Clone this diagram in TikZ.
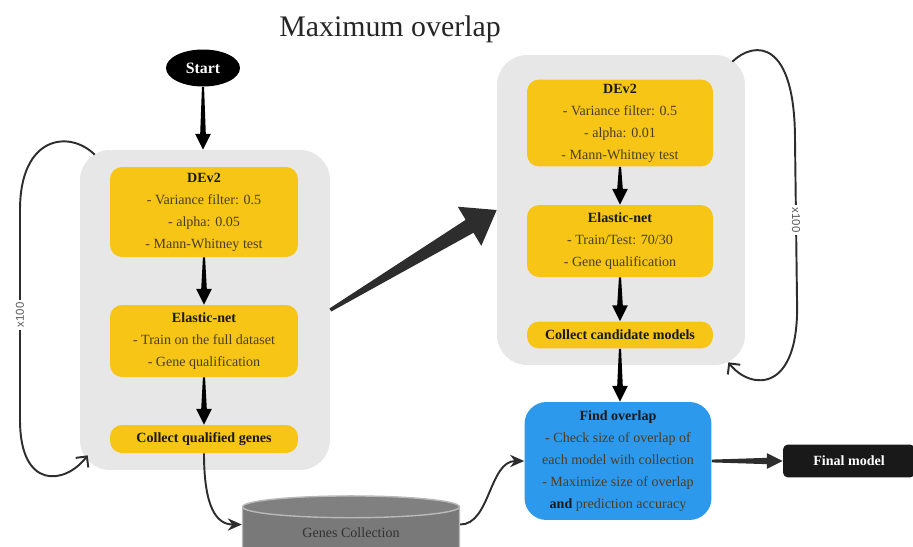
\documentclass[tikz,border=0pt]{standalone}
\usepackage{fontspec}
\setmainfont{Liberation Serif}
\setsansfont{Liberation Sans}
\usetikzlibrary{shapes,arrows.meta,calc}

\definecolor{boxyellow}{RGB}{246,197,22}
\definecolor{panelgray}{RGB}{231,231,231}
\definecolor{findblue}{RGB}{45,153,237}
\definecolor{arrowdark}{RGB}{45,45,45}
\definecolor{bodytext}{RGB}{75,62,35}

\tikzset{
  panel/.style={rectangle, rounded corners=0.6cm, fill=panelgray},
  stepbox/.style={rectangle, rounded corners=0.24cm, fill=boxyellow, align=center,
    text=bodytext, font=\fontsize{8}{12.5}\selectfont, inner sep=0pt, minimum width=3.76cm},
  link/.style={draw=arrowdark, line width=1.1pt, -{Stealth[width=7pt,length=8pt]}},
  repeat/.style={draw=arrowdark, line width=1.1pt, -{Straight Barb[width=9pt,length=4.5pt]}},
  count/.style={fill=white, text=black!65, font=\sffamily\fontsize{6.5}{7}\selectfont, inner sep=1.5pt}
}

% tapered arrow: [colour]{from}{to}{start half width}{end half width}{head half width}{head length}
\newcommand{\taper}[7][black]{%
  \coordinate (tp-h) at ($(#3)!#7!(#2)$);
  \fill[#1, line join=round] ($(#2)!#4!90:(#3)$) -- ($(tp-h)!#5!90:(#3)$) -- ($(tp-h)!#6!90:(#3)$) -- (#3)
    -- ($(tp-h)!#6!-90:(#3)$) -- ($(tp-h)!#5!-90:(#3)$) -- ($(#2)!#4!-90:(#3)$) -- cycle;}

\begin{document}
\begin{tikzpicture}[x=0.02cm, y=-0.02cm]
    \useasboundingbox (0,0) rectangle (913,547);

    \node (title) [text=black!85, font=\fontsize{17}{20}\selectfont] at (390,29) {Maximum overlap};
    \node (start) [ellipse, fill=black, text=white, font=\bfseries\fontsize{9}{10}\selectfont,
        minimum width=1.48cm, minimum height=0.74cm, inner sep=0pt] at (203,68) {Start};

    % left panel
    \node (lbox) [panel, minimum width=5cm, minimum height=6.4cm] at (205,310) {};
    \node (deva) [stepbox, minimum height=1.8cm] at (204,212)
        {\textbf{\color{black!90}DEv2}\\- Variance filter: 0.5\\- alpha: 0.05\\- Mann-Whitney test};
    \node (neta) [stepbox, minimum height=1.44cm] at (204,341)
        {\textbf{\color{black!90}Elastic-net}\\- Train on the full dataset\\- Gene qualification};
    \node (colla) [stepbox, minimum height=0.56cm] at (204,439)
        {\textbf{\color{black!90}Collect qualified genes}};

    % right panel
    \node (rbox) [panel, minimum width=4.96cm, minimum height=6.2cm] at (621,210) {};
    \node (devb) [stepbox, minimum width=3.72cm, minimum height=1.74cm] at (620,123)
        {\textbf{\color{black!90}DEv2}\\- Variance filter: 0.5\\- alpha: 0.01\\- Mann-Whitney test};
    \node (netb) [stepbox, minimum width=3.72cm, minimum height=1.44cm] at (620,241)
        {\textbf{\color{black!90}Elastic-net}\\- Train/Test: 70/30\\- Gene qualification};
    \node (collb) [stepbox, minimum width=3.72cm, minimum height=0.54cm] at (620,335)
        {\textbf{\color{black!90}Collect candidate models}};

    \node (find) [rectangle, rounded corners=0.44cm, fill=findblue, align=center, text=bodytext,
        font=\fontsize{8}{12.5}\selectfont, minimum width=3.74cm, minimum height=2.36cm] at (618,461)
        {\textbf{\color{black!90}Find overlap}\\- Check size of overlap of\\each model with collection\\- Maximize size of overlap\\\textbf{\color{black!90}and} prediction accuracy};
    \node (final) [rectangle, rounded corners=0.1cm, fill=black!90, text=white,
        font=\bfseries\fontsize{8}{10}\selectfont, minimum width=2.64cm, minimum height=0.66cm] at (849,461) {Final model};

    \node (gc) [cylinder, shape border rotate=90, aspect=0.2, draw=gray!55, line width=0.8pt,
        cylinder uses custom fill, cylinder body fill=gray!95!black, cylinder end fill=gray,
        minimum width=4.34cm, minimum height=1.3cm, text=black!80,
        font=\fontsize{8}{10}\selectfont] at (351,536) {\raisebox{0.14cm}{Genes Collection}};

    % arrows
    \coordinate (lin) at (start.south |- lbox.north);
    \coordinate (fin) at (collb.south |- find.north);
    \taper{start.south}{lin}{0.6pt}{1.6pt}{4.5pt}{9pt}
    \taper{deva.south}{neta.north}{0.6pt}{1.6pt}{4.5pt}{9pt}
    \taper{neta.south}{colla.north}{0.6pt}{1.6pt}{4.5pt}{9pt}
    \taper{devb.south}{netb.north}{0.6pt}{1.6pt}{4.5pt}{9pt}
    \taper{netb.south}{collb.north}{0.6pt}{1.6pt}{4.5pt}{9pt}
    \taper{collb.south}{fin}{0.6pt}{1.6pt}{4.5pt}{9pt}
    \taper[arrowdark]{lbox.east}{rbox.west}{1pt}{4.3pt}{13pt}{18pt}
    \taper[arrowdark]{find.east}{final.west}{0.8pt}{1.8pt}{4.5pt}{9pt}

    \draw [link] (colla.south) .. controls +(0,55) and +(-25,0) .. (gc.174);
    \draw [link] (gc.6) .. controls +(30,0) and +(-35,0) .. (find.west);

    % x100 loops
    \draw [repeat] ($(lbox.north west)+(15,5)$) .. controls (70,130) and (20,135) .. (20,210)
        -- node [count, rotate=90] {x100} (20,420)
        .. controls (20,490) and (65,485) .. ($(lbox.south west)+(8,-15)$);
    \draw [repeat] ($(rbox.north east)+(-13,7)$) .. controls (755,40) and (795,40) .. (795,140)
        -- node [count, rotate=-90] {x100} (797,300)
        .. controls (800,395) and (750,390) .. ($(rbox.south east)+(-17,-3)$);
\end{tikzpicture}
\end{document}
